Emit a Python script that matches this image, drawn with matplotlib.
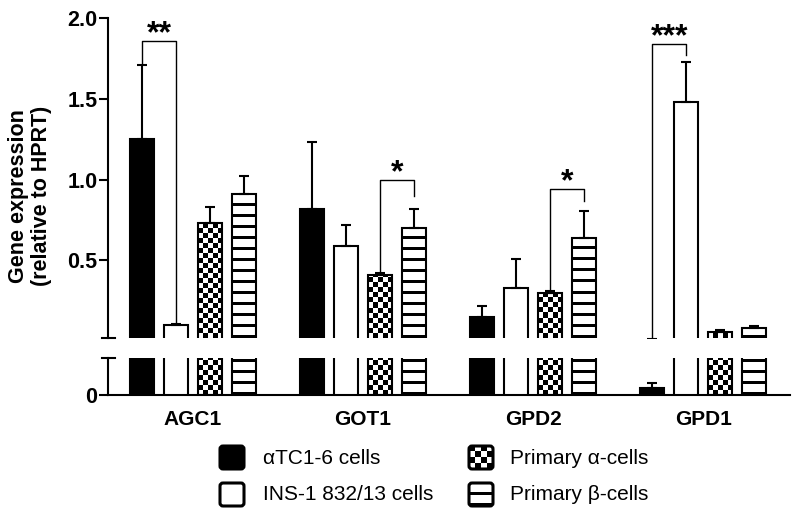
import matplotlib
matplotlib.use("Agg")
import matplotlib.pyplot as plt
from matplotlib.patches import ConnectionPatch, FancyBboxPatch
import numpy as np

plt.rcParams['font.family'] = ['Liberation Sans', 'DejaVu Sans']
plt.rcParams['axes.linewidth'] = 1.5

# data
groups = ['AGC1', 'GOT1', 'GPD2', 'GPD1']
atc = [1.25, 0.82, 0.15, 0.009]
atc_err = [0.46, 0.41, 0.065, 0.007]
ins = [0.10, 0.59, 0.33, 1.48]
ins_err = [0.005, 0.13, 0.18, 0.245]
prim_a = [0.73, 0.41, 0.30, 0.06]
prim_a_err = [0.10, 0.015, 0.01, 0.008]
prim_b = [0.91, 0.70, 0.64, 0.08]
prim_b_err = [0.11, 0.12, 0.165, 0.012]

series = ['αTC1-6 cells', 'INS-1 832/13 cells', 'Primary α-cells', 'Primary β-cells']
styles = ['solid', 'open', 'check', 'stripe']

# significance: group, bar i, bar j, bracket height, low end i, low end j, label
sig_group = [0, 1, 2, 3]
sig_i = [0, 2, 2, 0]
sig_j = [1, 3, 3, 1]
sig_top = [1.86, 1.0, 0.94, 1.84]
sig_lo_i = [1.72, 0.425, 0.31, 0.027]
sig_lo_j = [0.105, 0.90, 0.865, 1.77]
sig_txt = ['**', '*', '*', '***']

top_lim = (0.02, 2.0)
bot_lim = (0, 0.05)


def pattern(ax, x0, x1, y0, y1, kind, cell=5, period=11, thick=3, z=2):
    # fill a rectangle with a pixel pattern (checkerboard or horizontal stripes)
    p0 = ax.transData.transform((x0, y0))
    p1 = ax.transData.transform((x1, y1))
    nx = max(int(round(abs(p1[0] - p0[0]))), 1)
    ny = max(int(round(abs(p1[1] - p0[1]))), 1)
    jj, ii = np.meshgrid(np.arange(nx), np.arange(ny))
    if kind == 'check':
        arr = ((jj // cell + ii // cell) % 2).astype(float)
    else:
        arr = ((ii % period) < thick).astype(float)
    ax.imshow(arr, cmap='gray_r', vmin=0, vmax=1, origin='lower',
              extent=(x0, x1, y0, y1), interpolation='nearest',
              aspect='auto', zorder=z)


fig = plt.figure(figsize=(8, 5.15), dpi=100)
ax_top = fig.add_axes([108/800, 1-338/515, 682/800, 320/515])
ax_bot = fig.add_axes([108/800, 1-395/515, 682/800, 37/515])

x = np.arange(len(groups))
width = 0.141
offsets = (np.arange(4) - 1.5) * 0.2
vals = [atc, ins, prim_a, prim_b]
errs = [atc_err, ins_err, prim_a_err, prim_b_err]

for ax, lim in [(ax_top, top_lim), (ax_bot, bot_lim)]:
    ax.set_xlim(-0.5, 3.51)
    ax.set_ylim(*lim)
    for k in range(4):
        xs = x + offsets[k]
        fc = 'black' if styles[k] == 'solid' else ('white' if styles[k] == 'open' else 'none')
        bars = ax.bar(xs, vals[k], width, facecolor=fc, edgecolor='black',
                      linewidth=1.5, zorder=3)
        ax.errorbar(xs, vals[k], yerr=[np.zeros(4), errs[k]], fmt='none',
                    ecolor='black', elinewidth=1.5, capsize=3.5, capthick=1.5,
                    zorder=4)
        if styles[k] in ('check', 'stripe'):
            for b in bars:
                y0 = max(b.get_y(), lim[0])
                y1 = min(b.get_y() + b.get_height(), lim[1])
                if y1 > y0:
                    pattern(ax, b.get_x(), b.get_x() + b.get_width(), y0, y1, styles[k])
    ax.set_xlim(-0.5, 3.51)
    ax.set_ylim(*lim)
    ax.spines['top'].set_visible(False)
    ax.spines['right'].set_visible(False)
    ax.tick_params(axis='y', direction='out', length=6.5, width=1.5, pad=1)

# top segment
ax_top.spines['bottom'].set_visible(False)
ax_top.set_xticks([])
ax_top.set_yticks([0.5, 1.0, 1.5, 2.0])
ax_top.set_yticklabels(['0.5', '1.0', '1.5', '2.0'], fontsize=15.5, fontweight='bold')

# y label spans both segments
fig.text(30/800, 1-196/515, 'Gene expression\n(relative to HPRT)', fontsize=15.5,
         fontweight='bold', rotation=90, ha='center', va='center',
         multialignment='center', linespacing=1.1)

# bottom segment
ax_bot.set_yticks([0])
ax_bot.set_yticklabels(['0'], fontsize=15.5, fontweight='bold')
ax_bot.set_xticks(x)
ax_bot.set_xticklabels(groups, fontsize=15, fontweight='bold')
ax_bot.tick_params(axis='x', length=0, pad=11)

# axis break marks
ax_top.plot([-6/682, 7/682], [0, 0], transform=ax_top.transAxes, color='black',
            lw=1.5, clip_on=False)
ax_bot.plot([-6/682, 7/682], [1, 1], transform=ax_bot.transAxes, color='black',
            lw=1.5, clip_on=False)

# significance brackets
for g, i, j, top, lo_i, lo_j, txt in zip(sig_group, sig_i, sig_j, sig_top,
                                          sig_lo_i, sig_lo_j, sig_txt):
    xi = x[g] + offsets[i]
    xj = x[g] + offsets[j]
    if lo_i < top_lim[0]:
        con = ConnectionPatch(xyA=(xi, lo_i), coordsA=ax_bot.transData,
                              xyB=(xi, top), coordsB=ax_top.transData,
                              color='black', lw=1.0)
        fig.add_artist(con)
        ax_top.plot([xi, xj, xj], [top, top, lo_j], color='black', lw=1.0,
                    clip_on=False, zorder=5)
    else:
        ax_top.plot([xi, xi, xj, xj], [lo_i, top, top, lo_j], color='black',
                    lw=1.0, clip_on=False, zorder=5)
    ax_top.annotate(txt, xy=((xi + xj) / 2, top), xytext=(0, -1),
                    textcoords='offset points', ha='center', va='baseline',
                    fontsize=23, fontweight='bold', annotation_clip=False)

# legend drawn in its own axes, pixel units
ax_leg = fig.add_axes([200/800, 0, 500/800, 75/515])
ax_leg.set_xlim(200, 700)
ax_leg.set_ylim(515, 440)
ax_leg.axis('off')
leg_x = [220, 220, 469, 469]
leg_text_x = [263, 263, 510, 510]
leg_y = [446, 483, 446, 483]
for k in range(4):
    lx, ly = leg_x[k], leg_y[k]
    size = 24
    if styles[k] in ('check', 'stripe'):
        pattern(ax_leg, lx, lx + size, ly + size - 1, ly, styles[k], cell=6,
                period=11, thick=3, z=2)
    fc = 'black' if styles[k] == 'solid' else ('white' if styles[k] == 'open' else 'none')
    box = FancyBboxPatch((lx, ly), size, size - 1,
                         boxstyle='round,pad=0,rounding_size=3',
                         facecolor=fc, edgecolor='black', linewidth=2.2, zorder=3)
    ax_leg.add_patch(box)
    ax_leg.text(leg_text_x[k], ly + 12, series[k], fontsize=15, va='center',
                ha='left')
ax_leg.set_xlim(200, 700)
ax_leg.set_ylim(515, 440)

fig.savefig('out.png', dpi=100)
